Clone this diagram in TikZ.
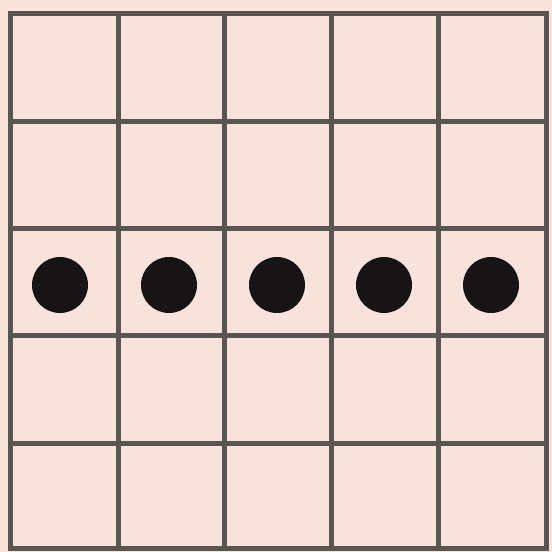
\documentclass[tikz,border=0pt]{standalone}
\definecolor{bgpink}{HTML}{F7E2DC}
\definecolor{gridgray}{HTML}{595550}
\definecolor{dotblack}{HTML}{161414}
\begin{document}
\begin{tikzpicture}[x=1pt,y=-1pt,
  gridline/.style={draw=gridgray,line width=5pt,line cap=rect},
  dot/.style={circle,fill=dotblack,minimum size=56pt,inner sep=0pt}]
\fill[bgpink] (0,0) rectangle (552,552);
\useasboundingbox (0,0) rectangle (552,552);
\foreach \x in {10,118,224,331,438,546} {
  \draw[gridline] (\x,13) -- (\x,548);
}
\foreach \y in {13,121,228,335,443,548} {
  \draw[gridline] (10,\y) -- (546,\y);
}
\node[dot] (d1) at (60,285) {};
\node[dot] (d2) at (169,285) {};
\node[dot] (d3) at (277,285) {};
\node[dot] (d4) at (384,285) {};
\node[dot] (d5) at (491,285) {};
\end{tikzpicture}
\end{document}
